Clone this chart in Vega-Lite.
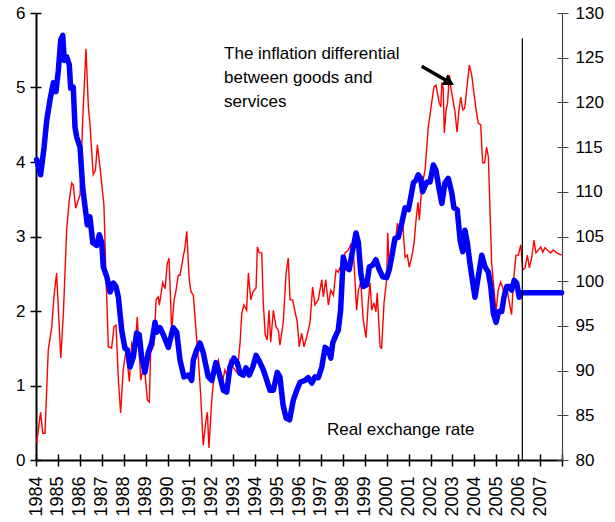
{
  "$schema": "https://vega.github.io/schema/vega-lite/v6.json",
  "width": 526,
  "height": 447,
  "autosize": {"type": "none"},
  "padding": {"left": 36, "top": 13, "right": 53, "bottom": 62},
  "background": "white",
  "config": {
    "view": {"stroke": null},
    "font": "Liberation Sans",
    "axis": {"grid": false, "labelFont": "Liberation Sans", "labelFontSize": 17, "labelColor": "#000", "title": null, "domainColor": "#000", "tickColor": "#000"}
  },
  "datasets": {
    "red": [
      {"t":1984.03,"v":0.23},{"t":1984.21,"v":0.64},{"t":1984.31,"v":0.36},{"t":1984.41,"v":0.36},{"t":1984.56,"v":1.48},{"t":1984.72,"v":1.79},{"t":1984.82,"v":2.19},{"t":1984.94,"v":2.51},{"t":1985.13,"v":1.37},{"t":1985.25,"v":1.97},{"t":1985.40,"v":3.09},{"t":1985.52,"v":3.49},{"t":1985.63,"v":3.72},{"t":1985.70,"v":3.69},{"t":1985.81,"v":3.38},{"t":1985.93,"v":3.49},{"t":1986.01,"v":3.56},{"t":1986.13,"v":4.56},{"t":1986.28,"v":5.52},{"t":1986.39,"v":4.74},{"t":1986.46,"v":4.52},{"t":1986.61,"v":3.83},{"t":1986.71,"v":3.89},{"t":1986.80,"v":4.23},{"t":1986.92,"v":3.93},{"t":1987.10,"v":3.42},{"t":1987.19,"v":2.51},{"t":1987.30,"v":1.52},{"t":1987.45,"v":1.50},{"t":1987.56,"v":1.79},{"t":1987.65,"v":1.81},{"t":1987.76,"v":1.07},{"t":1987.86,"v":0.63},{"t":1987.98,"v":1.21},{"t":1988.11,"v":1.48},{"t":1988.26,"v":1.05},{"t":1988.37,"v":1.57},{"t":1988.52,"v":1.48},{"t":1988.62,"v":1.92},{"t":1988.78,"v":1.07},{"t":1988.93,"v":1.30},{"t":1989.08,"v":0.81},{"t":1989.17,"v":0.78},{"t":1989.23,"v":1.44},{"t":1989.38,"v":1.54},{"t":1989.48,"v":2.15},{"t":1989.58,"v":2.19},{"t":1989.63,"v":2.08},{"t":1989.78,"v":2.38},{"t":1989.89,"v":2.30},{"t":1989.99,"v":2.64},{"t":1990.07,"v":2.71},{"t":1990.19,"v":1.74},{"t":1990.30,"v":2.15},{"t":1990.37,"v":2.24},{"t":1990.49,"v":2.48},{"t":1990.57,"v":2.48},{"t":1990.69,"v":2.68},{"t":1990.80,"v":2.86},{"t":1990.88,"v":3.07},{"t":1990.99,"v":2.42},{"t":1991.07,"v":2.26},{"t":1991.18,"v":2.21},{"t":1991.30,"v":1.74},{"t":1991.41,"v":1.34},{"t":1991.51,"v":0.90},{"t":1991.63,"v":0.20},{"t":1991.76,"v":0.54},{"t":1991.82,"v":0.64},{"t":1991.89,"v":0.16},{"t":1992.02,"v":0.81},{"t":1992.12,"v":1.11},{"t":1992.24,"v":1.28},{"t":1992.32,"v":1.34},{"t":1992.40,"v":1.21},{"t":1992.52,"v":1.07},{"t":1992.62,"v":1.21},{"t":1992.70,"v":1.14},{"t":1992.85,"v":1.34},{"t":1992.97,"v":1.25},{"t":1993.08,"v":1.21},{"t":1993.18,"v":1.17},{"t":1993.31,"v":1.57},{"t":1993.39,"v":1.97},{"t":1993.49,"v":2.08},{"t":1993.61,"v":2.01},{"t":1993.69,"v":2.51},{"t":1993.80,"v":2.15},{"t":1993.91,"v":2.26},{"t":1994.04,"v":2.31},{"t":1994.10,"v":2.86},{"t":1994.19,"v":2.78},{"t":1994.30,"v":2.78},{"t":1994.37,"v":2.11},{"t":1994.46,"v":1.68},{"t":1994.55,"v":1.61},{"t":1994.63,"v":2.01},{"t":1994.71,"v":1.58},{"t":1994.83,"v":2.01},{"t":1994.95,"v":1.79},{"t":1995.06,"v":1.74},{"t":1995.13,"v":1.54},{"t":1995.28,"v":1.84},{"t":1995.41,"v":2.51},{"t":1995.51,"v":2.71},{"t":1995.59,"v":2.15},{"t":1995.71,"v":2.15},{"t":1995.82,"v":1.99},{"t":1995.92,"v":1.85},{"t":1996.01,"v":1.52},{"t":1996.12,"v":1.70},{"t":1996.23,"v":1.52},{"t":1996.35,"v":1.65},{"t":1996.50,"v":1.84},{"t":1996.62,"v":2.32},{"t":1996.73,"v":2.08},{"t":1996.88,"v":2.15},{"t":1997.04,"v":2.42},{"t":1997.11,"v":2.19},{"t":1997.22,"v":2.42},{"t":1997.34,"v":2.08},{"t":1997.45,"v":2.28},{"t":1997.57,"v":2.21},{"t":1997.69,"v":2.55},{"t":1997.79,"v":2.52},{"t":1997.95,"v":2.64},{"t":1998.10,"v":2.78},{"t":1998.25,"v":2.82},{"t":1998.36,"v":2.89},{"t":1998.49,"v":2.75},{"t":1998.63,"v":2.01},{"t":1998.71,"v":2.28},{"t":1998.82,"v":2.39},{"t":1998.93,"v":1.88},{"t":1999.06,"v":1.64},{"t":1999.16,"v":2.11},{"t":1999.24,"v":2.38},{"t":1999.32,"v":2.01},{"t":1999.42,"v":2.11},{"t":1999.51,"v":1.99},{"t":1999.57,"v":2.24},{"t":1999.70,"v":1.52},{"t":1999.77,"v":1.50},{"t":1999.88,"v":2.11},{"t":2000.00,"v":2.42},{"t":2000.05,"v":3.05},{"t":2000.12,"v":2.55},{"t":2000.23,"v":2.82},{"t":2000.38,"v":2.86},{"t":2000.49,"v":3.18},{"t":2000.61,"v":2.99},{"t":2000.73,"v":3.18},{"t":2000.84,"v":2.72},{"t":2000.94,"v":2.75},{"t":2001.03,"v":2.59},{"t":2001.14,"v":2.72},{"t":2001.25,"v":2.91},{"t":2001.34,"v":3.22},{"t":2001.43,"v":3.46},{"t":2001.49,"v":3.22},{"t":2001.60,"v":3.66},{"t":2001.75,"v":3.89},{"t":2001.90,"v":4.47},{"t":2002.05,"v":4.79},{"t":2002.16,"v":5.01},{"t":2002.25,"v":5.03},{"t":2002.31,"v":4.93},{"t":2002.40,"v":4.79},{"t":2002.47,"v":4.74},{"t":2002.52,"v":5.07},{"t":2002.58,"v":4.99},{"t":2002.63,"v":4.39},{"t":2002.71,"v":4.70},{"t":2002.78,"v":4.79},{"t":2002.86,"v":5.17},{"t":2002.94,"v":4.97},{"t":2003.04,"v":4.81},{"t":2003.12,"v":4.67},{"t":2003.21,"v":4.40},{"t":2003.30,"v":4.70},{"t":2003.38,"v":4.87},{"t":2003.47,"v":4.70},{"t":2003.56,"v":4.72},{"t":2003.65,"v":4.97},{"t":2003.77,"v":5.30},{"t":2003.88,"v":5.17},{"t":2003.98,"v":4.93},{"t":2004.08,"v":4.70},{"t":2004.18,"v":4.52},{"t":2004.29,"v":4.50},{"t":2004.38,"v":3.99},{"t":2004.47,"v":3.99},{"t":2004.56,"v":4.20},{"t":2004.64,"v":4.07},{"t":2004.71,"v":3.40},{"t":2004.79,"v":2.64},{"t":2004.90,"v":2.28},{"t":2004.99,"v":1.99},{"t":2005.09,"v":2.28},{"t":2005.20,"v":2.39},{"t":2005.29,"v":2.32},{"t":2005.40,"v":2.15},{"t":2005.50,"v":2.28},{"t":2005.60,"v":2.11},{"t":2005.70,"v":1.95},{"t":2005.78,"v":2.38},{"t":2005.90,"v":2.75},{"t":2006.01,"v":2.75},{"t":2006.12,"v":2.89},{"t":2006.21,"v":2.55},{"t":2006.31,"v":2.58},{"t":2006.42,"v":2.75},{"t":2006.51,"v":2.58},{"t":2006.62,"v":2.72},{"t":2006.72,"v":2.95},{"t":2006.81,"v":2.78},{"t":2006.92,"v":2.82},{"t":2007.03,"v":2.86},{"t":2007.12,"v":2.79},{"t":2007.22,"v":2.85},{"t":2007.33,"v":2.82},{"t":2007.48,"v":2.78},{"t":2007.60,"v":2.82},{"t":2007.76,"v":2.78},{"t":2007.99,"v":2.75}
    ],
    "blue": [
      {"t":1984.03,"v":113.6},{"t":1984.21,"v":111.9},{"t":1984.37,"v":115.0},{"t":1984.49,"v":118.0},{"t":1984.64,"v":120.3},{"t":1984.79,"v":122.2},{"t":1984.91,"v":121.2},{"t":1985.02,"v":123.6},{"t":1985.13,"v":127.0},{"t":1985.22,"v":127.5},{"t":1985.29,"v":124.7},{"t":1985.40,"v":125.1},{"t":1985.52,"v":124.2},{"t":1985.58,"v":121.6},{"t":1985.70,"v":121.7},{"t":1985.78,"v":117.2},{"t":1985.86,"v":116.1},{"t":1986.01,"v":115.0},{"t":1986.13,"v":110.5},{"t":1986.24,"v":108.3},{"t":1986.34,"v":106.3},{"t":1986.46,"v":107.2},{"t":1986.59,"v":104.3},{"t":1986.77,"v":104.0},{"t":1986.89,"v":105.2},{"t":1987.00,"v":104.3},{"t":1987.07,"v":101.6},{"t":1987.23,"v":100.5},{"t":1987.38,"v":98.8},{"t":1987.53,"v":99.8},{"t":1987.65,"v":99.4},{"t":1987.76,"v":98.2},{"t":1987.91,"v":94.5},{"t":1988.06,"v":92.5},{"t":1988.17,"v":92.3},{"t":1988.29,"v":90.4},{"t":1988.44,"v":91.5},{"t":1988.59,"v":94.2},{"t":1988.71,"v":94.0},{"t":1988.82,"v":91.5},{"t":1988.97,"v":89.8},{"t":1989.12,"v":92.0},{"t":1989.28,"v":93.1},{"t":1989.43,"v":95.4},{"t":1989.51,"v":94.3},{"t":1989.66,"v":94.8},{"t":1989.81,"v":94.0},{"t":1990.04,"v":92.6},{"t":1990.26,"v":94.8},{"t":1990.42,"v":94.3},{"t":1990.57,"v":91.2},{"t":1990.75,"v":89.3},{"t":1990.95,"v":89.5},{"t":1991.10,"v":88.9},{"t":1991.18,"v":91.2},{"t":1991.33,"v":92.3},{"t":1991.48,"v":93.1},{"t":1991.63,"v":92.0},{"t":1991.86,"v":89.3},{"t":1992.02,"v":88.9},{"t":1992.21,"v":90.9},{"t":1992.36,"v":89.7},{"t":1992.55,"v":87.8},{"t":1992.70,"v":87.6},{"t":1992.85,"v":90.4},{"t":1993.03,"v":91.4},{"t":1993.18,"v":90.9},{"t":1993.31,"v":89.7},{"t":1993.46,"v":89.5},{"t":1993.58,"v":90.3},{"t":1993.73,"v":89.5},{"t":1993.89,"v":90.4},{"t":1994.04,"v":91.7},{"t":1994.22,"v":90.9},{"t":1994.37,"v":90.1},{"t":1994.53,"v":88.9},{"t":1994.68,"v":87.8},{"t":1994.83,"v":87.8},{"t":1995.01,"v":89.8},{"t":1995.13,"v":89.3},{"t":1995.27,"v":86.2},{"t":1995.41,"v":84.7},{"t":1995.57,"v":84.5},{"t":1995.74,"v":86.7},{"t":1995.90,"v":87.8},{"t":1996.05,"v":88.7},{"t":1996.27,"v":88.9},{"t":1996.42,"v":89.2},{"t":1996.58,"v":88.6},{"t":1996.73,"v":89.3},{"t":1996.88,"v":89.2},{"t":1997.04,"v":90.4},{"t":1997.19,"v":92.6},{"t":1997.34,"v":92.3},{"t":1997.45,"v":91.4},{"t":1997.54,"v":93.1},{"t":1997.69,"v":94.0},{"t":1997.79,"v":94.5},{"t":1997.90,"v":96.8},{"t":1998.02,"v":102.7},{"t":1998.14,"v":101.6},{"t":1998.29,"v":101.3},{"t":1998.45,"v":103.5},{"t":1998.60,"v":105.4},{"t":1998.71,"v":104.3},{"t":1998.82,"v":100.9},{"t":1998.93,"v":99.4},{"t":1999.09,"v":99.6},{"t":1999.21,"v":101.6},{"t":1999.36,"v":101.8},{"t":1999.51,"v":102.4},{"t":1999.66,"v":101.3},{"t":1999.82,"v":100.5},{"t":2000.00,"v":100.4},{"t":2000.12,"v":101.3},{"t":2000.23,"v":102.7},{"t":2000.38,"v":104.8},{"t":2000.53,"v":104.9},{"t":2000.69,"v":106.5},{"t":2000.84,"v":108.2},{"t":2000.99,"v":108.0},{"t":2001.10,"v":109.4},{"t":2001.22,"v":111.0},{"t":2001.34,"v":111.3},{"t":2001.44,"v":111.9},{"t":2001.55,"v":111.5},{"t":2001.64,"v":110.0},{"t":2001.83,"v":111.1},{"t":2001.98,"v":111.1},{"t":2002.13,"v":113.0},{"t":2002.25,"v":112.4},{"t":2002.40,"v":110.2},{"t":2002.52,"v":108.7},{"t":2002.66,"v":111.0},{"t":2002.81,"v":111.5},{"t":2002.97,"v":109.9},{"t":2003.07,"v":108.2},{"t":2003.22,"v":108.0},{"t":2003.35,"v":104.6},{"t":2003.47,"v":103.3},{"t":2003.57,"v":105.7},{"t":2003.68,"v":104.3},{"t":2003.80,"v":102.0},{"t":2003.93,"v":99.8},{"t":2004.03,"v":98.2},{"t":2004.18,"v":100.5},{"t":2004.34,"v":102.9},{"t":2004.49,"v":101.6},{"t":2004.64,"v":101.0},{"t":2004.75,"v":99.4},{"t":2004.87,"v":96.4},{"t":2004.99,"v":95.4},{"t":2005.11,"v":96.6},{"t":2005.25,"v":96.6},{"t":2005.35,"v":98.2},{"t":2005.48,"v":99.4},{"t":2005.60,"v":99.4},{"t":2005.70,"v":99.0},{"t":2005.82,"v":100.1},{"t":2005.93,"v":99.8},{"t":2006.05,"v":98.2},{"t":2006.16,"v":98.7},{"t":2006.30,"v":98.7},{"t":2007.98,"v":98.7}
    ],
    "labels": [
      {"t":1992.58,"v":5.387,"text":"The inflation differential"},
      {"t":1992.58,"v":5.067,"text":"between goods and"},
      {"t":1992.58,"v":4.738,"text":"services"},
      {"t":1997.28,"v":0.336,"text":"Real exchange rate"}
    ],
    "arrow": [
      {"t":2001.60,"v":5.285,"t2":2002.80,"v2":5.08}
    ],
    "arrowhead": [
      {"t":2002.86,"v":5.07}
    ],
    "vline": [
      {"t":2006.19,"v":80,"v2":127.17}
    ]
  },
  "layer": [
    {
      "data": {"name": "red"},
      "mark": {"type": "line", "color": "#ff0000", "strokeWidth": 1.4},
      "encoding": {
        "x": {
          "field": "t", "type": "quantitative",
          "scale": {"domain": [1984, 2008], "nice": false, "zero": false},
          "axis": {
            "orient": "bottom",
            "values": [1984,1985,1986,1987,1988,1989,1990,1991,1992,1993,1994,1995,1996,1997,1998,1999,2000,2001,2002,2003,2004,2005,2006,2007,2008],
            "format": "d",
            "labelExpr": "datum.value >= 2008 ? '' : datum.label",
            "labelAngle": 270,
            "labelFontSize": 18,
            "labelPadding": 10,
            "tickSize": 6,
            "tickWidth": 1.5,
            "domainWidth": 2,
            "labelOverlap": false,
            "labelBound": false,
            "labelFlush": false
          }
        },
        "y": {
          "field": "v", "type": "quantitative",
          "scale": {"domain": [0, 6], "nice": false, "zero": true},
          "axis": {"orient": "left", "values": [0,1,2,3,4,5,6], "tickSize": 6, "tickWidth": 1.5, "domainWidth": 2, "labelPadding": 5, "labelFlush": false}
        }
      }
    },
    {
      "data": {"name": "blue"},
      "mark": {"type": "line", "color": "#0000ff", "strokeWidth": 5.5, "strokeJoin": "round", "strokeCap": "round"},
      "encoding": {
        "x": {
          "field": "t", "type": "quantitative",
          "axis": {
            "orient": "bottom",
            "values": [1984,1985,1986,1987,1988,1989,1990,1991,1992,1993,1994,1995,1996,1997,1998,1999,2000,2001,2002,2003,2004,2005,2006,2007,2008],
            "labels": false, "domain": false, "tickSize": -6, "tickWidth": 1.5
          }
        },
        "y": {
          "field": "v", "type": "quantitative",
          "scale": {"domain": [80, 130], "nice": false, "zero": false},
          "axis": {"orient": "right", "values": [80,85,90,95,100,105,110,115,120,125,130], "tickSize": 6, "tickWidth": 1, "domainWidth": 1.2, "domainColor": "#444", "tickColor": "#444", "labelPadding": 7, "labelFlush": false}
        }
      }
    },
    {
      "data": {"name": "vline"},
      "mark": {"type": "rule", "color": "#000", "strokeWidth": 1.2},
      "encoding": {
        "x": {"field": "t", "type": "quantitative", "axis": null},
        "y": {
          "field": "v", "type": "quantitative",
          "scale": {"domain": [80, 130], "nice": false, "zero": false},
          "axis": {"orient": "right", "values": [80,85,90,95,100,105,110,115,120,125,130], "labels": false, "domain": false, "tickSize": -5, "tickWidth": 1, "tickColor": "#444"}
        },
        "y2": {"field": "v2"}
      }
    },
    {
      "layer": [
        {
          "data": {"name": "arrow"},
          "mark": {"type": "rule", "color": "#000", "strokeWidth": 3.5},
          "encoding": {
            "x": {"field": "t", "type": "quantitative", "axis": null},
            "x2": {"field": "t2"},
            "y": {"field": "v", "type": "quantitative"},
            "y2": {"field": "v2"}
          }
        },
        {
          "data": {"name": "arrowhead"},
          "mark": {"type": "point", "shape": "triangle-right", "filled": true, "color": "#000", "opacity": 1, "size": 150, "angle": 30},
          "encoding": {
            "x": {"field": "t", "type": "quantitative", "axis": null},
            "y": {"field": "v", "type": "quantitative"}
          }
        },
        {
          "data": {"name": "labels"},
          "mark": {"type": "text", "align": "left", "baseline": "alphabetic", "fontSize": 17, "font": "Liberation Sans", "color": "#000"},
          "encoding": {
            "x": {"field": "t", "type": "quantitative", "axis": null},
            "y": {
              "field": "v", "type": "quantitative",
              "scale": {"domain": [0, 6], "nice": false, "zero": true},
              "axis": {"orient": "left", "values": [0,1,2,3,4,5,6], "labels": false, "domain": false, "tickSize": -5, "tickWidth": 1.5}
            },
            "text": {"field": "text"}
          }
        }
      ]
    }
  ],
  "resolve": {"scale": {"y": "independent"}, "axis": {"x": "independent", "y": "independent"}}
}
